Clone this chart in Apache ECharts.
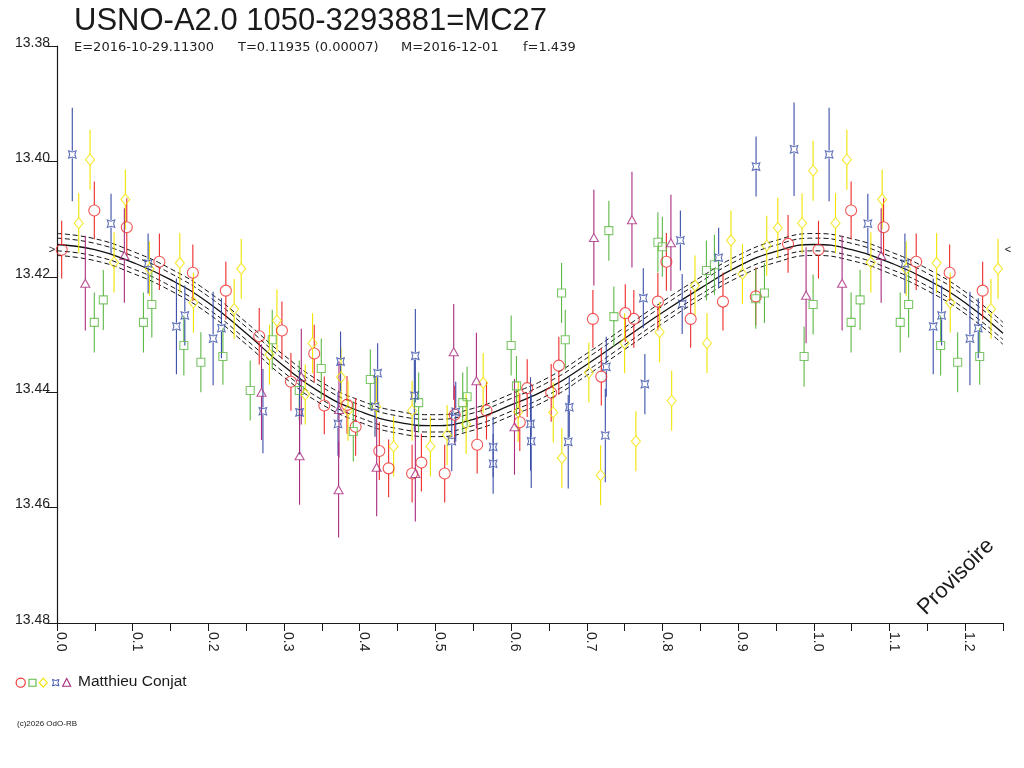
<!DOCTYPE html>
<html><head><meta charset="utf-8">
<script src="https://cdn.jsdelivr.net/npm/echarts@6/dist/echarts.min.js"></script>
<style>html,body{margin:0;padding:0;background:#fff}#c{width:1024px;height:768px}</style>
</head><body><div id="c"></div>
<script>
// [phase, magnitude, error]
const redCircles = [
[0.0062,13.4153,0.0050],[0.0493,13.4085,0.0050],[0.0922,13.4114,0.0050],[0.1353,13.4174,0.0049],
[0.1795,13.4193,0.0049],[0.2231,13.4224,0.0050],[0.2672,13.4303,0.0049],[0.2972,13.4293,0.0050],
[0.3091,13.4382,0.0050],[0.3399,13.4333,0.0050],[0.3532,13.4423,0.0050],[0.3832,13.4422,0.0050],
[0.3946,13.4460,0.0050],[0.4259,13.4502,0.0050],[0.4382,13.4532,0.0050],[0.4692,13.4541,0.0050],
[0.4815,13.4522,0.0050],[0.5123,13.4541,0.0050],[0.5255,13.4439,0.0050],[0.5552,13.4491,0.0050],
[0.5675,13.4432,0.0050],[0.6115,13.4452,0.0050],[0.6213,13.4393,0.0050],[0.6530,13.4401,0.0050],
[0.6631,13.4354,0.0050],[0.7081,13.4273,0.0050],[0.7192,13.4373,0.0050],[0.7509,13.4263,0.0050],
[0.7622,13.4273,0.0050],[0.7940,13.4243,0.0050],[0.8052,13.4174,0.0050],[0.8373,13.4273,0.0050],
[0.8800,13.4243,0.0050],[0.9233,13.4234,0.0050],[0.9660,13.4143,0.0050]
];
const greenSquares = [
[0.0493,13.4279,0.0052],[0.0612,13.4240,0.0052],[0.1142,13.4279,0.0052],[0.1253,13.4248,0.0057],
[0.1676,13.4319,0.0052],[0.1901,13.4348,0.0052],[0.2192,13.4338,0.0049],[0.2553,13.4397,0.0052],
[0.2844,13.4309,0.0052],[0.3201,13.4397,0.0052],[0.3492,13.4359,0.0052],[0.3915,13.4468,0.0052],
[0.4140,13.4378,0.0052],[0.4779,13.4418,0.0052],[0.5361,13.4418,0.0052],[0.5419,13.4408,0.0052],
[0.6001,13.4319,0.0052],[0.6071,13.4389,0.0052],[0.6667,13.4228,0.0052],[0.6716,13.4309,0.0052],
[0.7292,13.4120,0.0052],[0.7358,13.4269,0.0052],[0.7940,13.4140,0.0052],[0.7999,13.4148,0.0052],
[0.8581,13.4189,0.0052],[0.8687,13.4179,0.0052],[0.9233,13.4238,0.0052],[0.9348,13.4228,0.0052],
[0.9872,13.4338,0.0052],[0.9991,13.4248,0.0052]
];
const yellowDiamonds = [
[0.0287,13.4107,0.0052],[0.0437,13.3997,0.0052],[0.0754,13.4175,0.0052],[0.0903,13.4066,0.0052],
[0.1221,13.4186,0.0047],[0.1623,13.4176,0.0052],[0.1803,13.4245,0.0052],[0.2341,13.4256,0.0052],
[0.2434,13.4186,0.0052],[0.2808,13.4335,0.0052],[0.2906,13.4276,0.0054],[0.3280,13.4404,0.0052],
[0.3377,13.4315,0.0052],[0.3753,13.4374,0.0052],[0.3845,13.4432,0.0052],[0.4220,13.4425,0.0052],
[0.4448,13.4494,0.0052],[0.4692,13.4432,0.0052],[0.4934,13.4494,0.0052],[0.5155,13.4474,0.0052],
[0.5406,13.4455,0.0052],[0.5631,13.4384,0.0052],[0.6094,13.4434,0.0052],[0.6557,13.4435,0.0052],
[0.6671,13.4514,0.0052],[0.7028,13.4366,0.0052],[0.7183,13.4544,0.0052],[0.7500,13.4315,0.0052],
[0.7649,13.4485,0.0052],[0.7963,13.4296,0.0052],[0.8122,13.4415,0.0052],[0.8430,13.4215,0.0052],
[0.8589,13.4315,0.0052],[0.8906,13.4137,0.0052],[0.9057,13.4195,0.0052],[0.9378,13.4146,0.0052],
[0.9524,13.4115,0.0052],[0.9845,13.4107,0.0052],[0.9991,13.4016,0.0052]
];
const blueStars = [
[0.0202,13.3988,0.0081],[0.0714,13.4108,0.0052],[0.1204,13.4177,0.0052],[0.1578,13.4286,0.0083],
[0.1689,13.4267,0.0052],[0.2063,13.4307,0.0081],[0.2173,13.4289,0.0052],[0.2721,13.4433,0.0073],
[0.3205,13.4435,0.0073],[0.3713,13.4455,0.0055],[0.3747,13.4347,0.0052],[0.4202,13.4425,0.0052],
[0.4237,13.4367,0.0052],[0.4722,13.4406,0.0062],[0.4735,13.4337,0.0081],[0.5216,13.4485,0.0052],
[0.5269,13.4434,0.0052],[0.5763,13.4495,0.0052],[0.5763,13.4524,0.0052],[0.6257,13.4455,0.0081],
[0.6266,13.4485,0.0081],[0.6755,13.4486,0.0081],[0.6769,13.4426,0.0052],[0.7245,13.4475,0.0081],
[0.7258,13.4356,0.0052],[0.7747,13.4237,0.0052],[0.7768,13.4386,0.0052],[0.8237,13.4137,0.0052],
[0.8261,13.4247,0.0052],[0.8743,13.4167,0.0052],[0.9237,13.4009,0.0052],[0.9739,13.3979,0.0081]
];
const purpleTriangles = [
[0.0374,13.4211,0.0082],[0.0890,13.4163,0.0082],[0.2702,13.4400,0.0083],[0.3205,13.4510,0.0085],
[0.3228,13.4373,0.0083],[0.3721,13.4569,0.0083],[0.3726,13.4430,0.0083],[0.4224,13.4530,0.0085],
[0.4735,13.4541,0.0083],[0.5242,13.4330,0.0083],[0.5542,13.4380,0.0083],[0.6045,13.4460,0.0083],
[0.7094,13.4132,0.0083],[0.7597,13.4101,0.0083],[0.8112,13.4141,0.0083],[0.9898,13.4232,0.0083]
];
// fitted light curve
const fitPhase = [0,0.05,0.10,0.15,0.20,0.25,0.30,0.35,0.40,0.45,0.50,0.55,0.60,0.65,0.70,0.75,0.80,0.85,0.90,0.95,1.00];
const fitMag   = [13.4144,13.4153,13.4175,13.4205,13.4245,13.4298,13.4355,13.4402,13.4433,13.4452,13.4458,
                  13.4447,13.4422,13.4393,13.4352,13.4307,13.4262,13.4220,13.4182,13.4156,13.4144];
const bandInner = 0.0011;
const bandOuter = 0.0019;
const phaseMax = 1.25;
const magMin = 13.38, magMax = 13.48, magStep = 0.02;

const titleText = 'USNO-A2.0 1050-3293881=MC27';
const subTexts = ['E=2016-10-29.11300', 'T=0.11935 (0.00007)', 'M=2016-12-01', 'f=1.439'];
const observer = 'Matthieu Conjat';

function wrap(points) {
  const out = points.map(p => p.slice());
  points.forEach(p => { if (p[0] + 1 <= phaseMax) out.push([p[0] + 1, p[1], p[2]]); });
  return out;
}
const fitPts = fitPhase.map((p, i) => [p, fitMag[i]]);
fitPhase.forEach((p, i) => { if (p > 0 && p + 1 <= phaseMax + 1e-9) fitPts.push([p + 1, fitMag[i]]); });

const FONT = '"Liberation Sans", Arial, Helvetica, sans-serif';
const SUBFONT = '"DejaVu Sans", Verdana, sans-serif';
const C = { red: '#ee2a2a', green: '#5cb845', yellow: '#f2e400', blue: '#3a4fa8', purple: '#a92c80' };
const hourglass = 'path://M0,0L5,1.6L10,0L8.4,5L10,10L5,8.4L0,10L1.6,5Z';

const groups = [
  { data: redCircles, color: C.red, symbol: 'circle', size: 11, gap: 5.5 },
  { data: greenSquares, color: C.green, symbol: 'rect', size: 8, gap: 4 },
  { data: yellowDiamonds, color: C.yellow, symbol: 'diamond', size: [9, 11], gap: 5.5 },
  { data: blueStars, color: C.blue, symbol: hourglass, size: 7.5, gap: 3.7 },
  { data: purpleTriangles, color: C.purple, symbol: 'triangle', size: [9, 8], gap: 4 }
];

const series = [];
function bandSeries(off, z) {
  return { type: 'line', data: fitPts.map(p => [p[0], p[1] + off]), smooth: true, symbol: 'none',
    silent: true, z: z, lineStyle: { color: '#111', width: 1, type: [5, 3] } };
}
series.push(bandSeries(-bandOuter, 1), bandSeries(-bandInner, 1), bandSeries(bandInner, 1), bandSeries(bandOuter, 1));
series.push({ type: 'line', data: fitPts, smooth: true, symbol: 'none', silent: true, z: 1,
  lineStyle: { color: '#111', width: 1.3 } });

groups.forEach(g => {
  const d = wrap(g.data);
  series.push({
    type: 'custom', data: d, z: 2, clip: true, silent: true,
    renderItem: function (params, api) {
      const x = api.value(0), y = api.value(1), e = api.value(2);
      const c = api.coord([x, y]);
      const a = api.coord([x, y - e]), b = api.coord([x, y + e]);
      const t = Math.min(a[1], b[1]), bt = Math.max(a[1], b[1]);
      const ch = [];
      if (c[1] - g.gap > t) ch.push({ type: 'line', shape: { x1: c[0], y1: t, x2: c[0], y2: c[1] - g.gap }, style: { stroke: g.color, lineWidth: 1.1 } });
      if (c[1] + g.gap < bt) ch.push({ type: 'line', shape: { x1: c[0], y1: c[1] + g.gap, x2: c[0], y2: bt }, style: { stroke: g.color, lineWidth: 1.1 } });
      return { type: 'group', children: ch };
    }
  });
  series.push({
    type: 'scatter', data: d.map(p => [p[0], p[1]]), z: 3, symbol: g.symbol, symbolSize: g.size,
    itemStyle: { color: 'rgba(255,255,255,0)', borderColor: g.color, borderWidth: 1.1 }, silent: true
  });
});

const gText = (x, y, text, size, extra) => Object.assign({
  type: 'text', x: x, y: y,
  style: Object.assign({ text: text, fontSize: size, fontFamily: FONT, fill: '#1a1a1a', align: 'left', verticalAlign: 'middle' }, (extra && extra.style) || {})
}, extra && extra.el || {});

const subX = [74, 238, 401, 523];
const graphic = [
  gText(74, 21, titleText, 31),
  ...subTexts.map((t, i) => gText(subX[i], 47.5, t, 13, { style: { fontFamily: SUBFONT, fill: '#222' } })),
  gText(78, 682, observer, 15.5),
  gText(17, 724, '(c)2026 OdO-RB', 8),
  gText(956, 577, 'Provisoire', 22, { style: { align: 'center' }, el: { rotation: Math.PI / 4, originX: 0, originY: 0 } }),
  gText(52, 250, '>', 11, { style: { align: 'center' } }),
  gText(1008, 250, '<', 11, { style: { align: 'center' } }),
  { type: 'circle', shape: { cx: 20.7, cy: 682.7, r: 4.6 }, style: { fill: 'none', stroke: C.red, lineWidth: 1.1 } },
  { type: 'rect', shape: { x: 29, y: 679.2, width: 7, height: 7 }, style: { fill: 'none', stroke: C.green, lineWidth: 1.1 } },
  { type: 'polygon', shape: { points: [[43.3, 678.2], [47.3, 682.7], [43.3, 687.2], [39.3, 682.7]] }, style: { fill: 'none', stroke: C.yellow, lineWidth: 1.1 } },
  { type: 'polygon', shape: { points: [[52.5, 679.5], [55.7, 680.5], [58.9, 679.5], [57.9, 682.7], [58.9, 685.9], [55.7, 684.9], [52.5, 685.9], [53.5, 682.7]] }, style: { fill: 'none', stroke: C.blue, lineWidth: 1 } },
  { type: 'polygon', shape: { points: [[66.7, 678.5], [70.7, 686.2], [62.7, 686.2]] }, style: { fill: 'none', stroke: C.purple, lineWidth: 1.1 } }
];

const chart = echarts.init(document.getElementById('c'), null, { renderer: 'canvas' });
chart.setOption({
  animation: false,
  backgroundColor: '#fff',
  grid: { left: 57, right: 21, top: 46, bottom: 145 },
  xAxis: {
    type: 'value', min: 0, max: phaseMax, interval: 0.05,
    axisLine: { onZero: false, lineStyle: { color: '#1a1a1a', width: 1.2 } },
    axisTick: { length: 8, lineStyle: { color: '#1a1a1a', width: 1 } },
    splitLine: { show: false },
    axisLabel: {
      rotate: -90, margin: 9, align: 'left', verticalAlign: 'bottom', lineHeight: 8,
      fontSize: 14, fontFamily: FONT, color: '#222',
      formatter: v => (Math.round(v * 100) % 10 === 0 ? v.toFixed(1) : '')
    }
  },
  yAxis: {
    type: 'value', inverse: true, min: magMin, max: magMax, interval: magStep,
    axisLine: { onZero: false, lineStyle: { color: '#1a1a1a', width: 1.2 } },
    axisTick: { length: 11, lineStyle: { color: '#1a1a1a', width: 1 } },
    splitLine: { show: false },
    axisLabel: { margin: 7, verticalAlign: 'bottom', lineHeight: 6, fontSize: 14, fontFamily: FONT, color: '#222',
      formatter: v => v.toFixed(2) }
  },
  graphic: graphic,
  series: series
});
</script></body></html>
